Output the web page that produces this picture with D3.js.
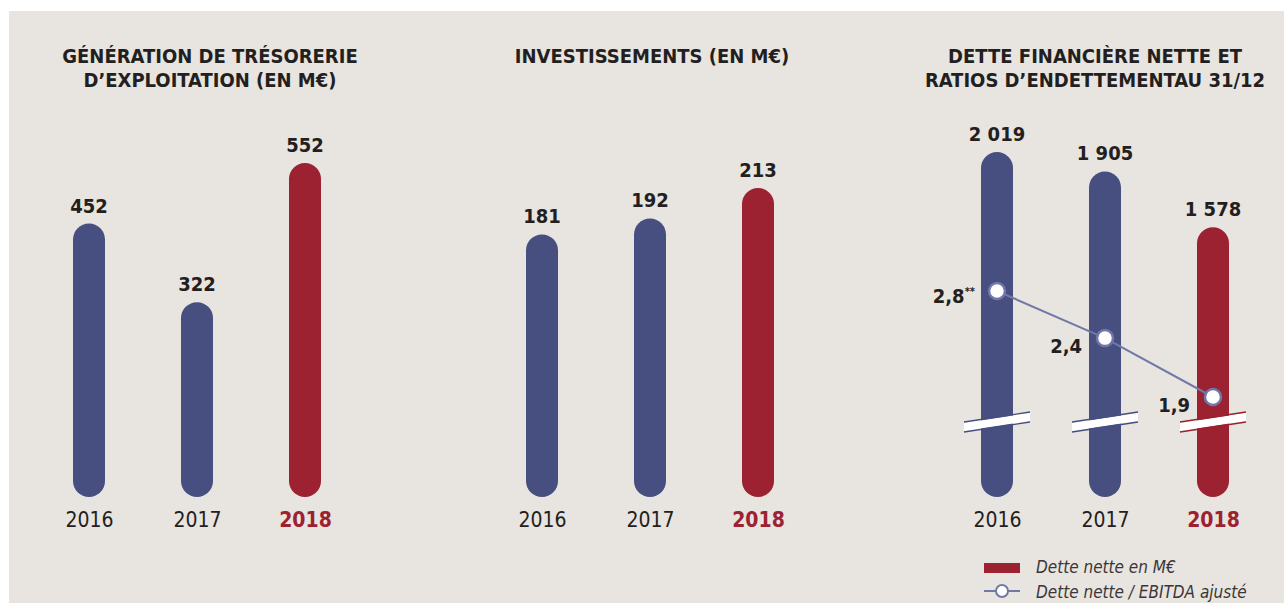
<!doctype html>
<html>
  <head>
    <meta charset="utf-8">
    <title>Chiffres clés</title>
    <script src="https://cdnjs.cloudflare.com/ajax/libs/d3/7.8.5/d3.min.js"></script>
    <style>
      body { margin: 0; background: #fff; }
      .cond { font-family: "Liberation Sans Narrow", "DejaVu Sans Condensed", sans-serif; }
    </style>
  </head>
  <body>
    <div id="chart"></div>
    <script>
      // data
      const years = ['2016', '2017', '2018'];
      const tresorerie = [452, 322, 552];
      const investissements = [181, 192, 213];
      const detteNette = [2019, 1905, 1578];
      const detteLabels = ['2 019', '1 905', '1 578'];
      const ratio = [2.8, 2.4, 1.9];
      const ratioLabels = ['2,8', '2,4', '1,9'];

      const blue = '#474f80', red = '#9c2131', ink = '#231f20', bg = '#e8e4df';
      const lineCol = '#7178a8';

      const svg = d3.select('#chart').append('svg')
        .attr('width', 1284).attr('height', 603);

      svg.append('rect').attr('x', 9).attr('y', 11)
        .attr('width', 1275).attr('height', 592).attr('fill', bg);

      const baseY = 497, barW = 32;
      const colorOf = (d, i) => i === 2 ? red : blue;

      function title(lines, cx) {
        svg.append('text').attr('class', 'cond')
          .attr('x', cx).attr('y', 63)
          .attr('text-anchor', 'middle')
          .attr('font-size', 20).attr('font-weight', 'bold')
          .attr('fill', ink)
          .selectAll('tspan').data(lines).join('tspan')
          .attr('x', cx).attr('dy', (d, i) => i ? 24 : 0)
          .text(d => d);
      }

      function panel(x, y, values, labels) {
        const g = svg.append('g');
        g.selectAll('rect.bar').data(values).join('rect')
          .attr('class', 'bar')
          .attr('x', (d, i) => x(years[i]) - barW / 2)
          .attr('y', d => y(d))
          .attr('width', barW)
          .attr('height', d => baseY - y(d))
          .attr('rx', barW / 2)
          .attr('fill', colorOf);

        g.selectAll('text.val').data(values).join('text')
          .attr('class', 'val cond')
          .attr('x', (d, i) => x(years[i]))
          .attr('y', d => y(d) - 11)
          .attr('text-anchor', 'middle')
          .attr('font-size', 20).attr('font-weight', 'bold')
          .attr('fill', ink)
          .text((d, i) => labels[i]);

        // x axis labels, no line
        const axis = d3.axisBottom(x).tickSize(0).tickPadding(0);
        const ax = g.append('g').attr('transform', `translate(0,${baseY + 30})`).call(axis);
        ax.select('.domain').remove();
        ax.selectAll('text')
          .attr('class', 'cond')
          .attr('dy', 0)
          .attr('font-size', 21)
          .attr('font-family', '"Liberation Sans Narrow", "DejaVu Sans Condensed", sans-serif')
          .attr('fill', (d, i) => i === 2 ? red : ink)
          .attr('font-weight', (d, i) => i === 2 ? 'bold' : 'normal');
        return g;
      }

      // panel 1
      const x1 = d3.scalePoint().domain(years).range([89, 305]);
      const y1 = d3.scaleLinear().domain([0, 552]).range([baseY, 163]);
      title(['GÉNÉRATION DE TRÉSORERIE', 'D\u2019EXPLOITATION (EN M€)'], 210);
      panel(x1, y1, tresorerie, tresorerie.map(String));

      // panel 2
      const x2 = d3.scalePoint().domain(years).range([542, 758]);
      const y2 = d3.scaleLinear().domain([0, 213]).range([baseY, 188]);
      title(['INVESTISSEMENTS (EN M€)'], 652);
      panel(x2, y2, investissements, investissements.map(String));

      // panel 3
      const x3 = d3.scalePoint().domain(years).range([997, 1213]);
      const y3 = d3.scaleLinear().domain([0, 2019]).range([baseY, 152]);
      title(['DETTE FINANCIÈRE NETTE ET', 'RATIOS D\u2019ENDETTEMENTAU 31/12'], 1095);
      const p3 = panel(x3, y3, detteNette, detteLabels);

      // axis break marks
      const breakY = 422;
      const brk = p3.selectAll('g.brk').data(years).join('g')
        .attr('class', 'brk')
        .attr('transform', d => `translate(${x3(d)},${breakY})`);
      const bw = 33, slope = -5;
      brk.append('path')
        .attr('d', `M${-bw},${-slope + -4}L${bw},${slope - 4}L${bw},${slope + 4}L${-bw},${-slope + 4}Z`)
        .attr('fill', '#fff');
      brk.append('path')
        .attr('d', `M${-bw},${-slope - 5}L${bw},${slope - 5}M${-bw},${-slope + 5}L${bw},${slope + 5}`)
        .attr('stroke', (d, i) => colorOf(d, i)).attr('stroke-width', 1.3).attr('fill', 'none');

      // ratio line
      const yr = d3.scaleLinear().domain([1.9, 2.8]).range([397, 291]);
      const line = d3.line().x((d, i) => x3(years[i])).y(d => yr(d));
      p3.append('path').datum(ratio).attr('d', line)
        .attr('fill', 'none').attr('stroke', lineCol).attr('stroke-width', 2);
      p3.selectAll('circle.pt').data(ratio).join('circle')
        .attr('class', 'pt')
        .attr('cx', (d, i) => x3(years[i])).attr('cy', d => yr(d))
        .attr('r', 8).attr('fill', '#fff')
        .attr('stroke', lineCol).attr('stroke-width', 2.5);
      const rl = p3.selectAll('text.rl').data(ratio).join('text')
        .attr('class', 'rl cond')
        .attr('x', (d, i) => x3(years[i]) - (i === 0 ? 22 : 23))
        .attr('y', (d, i) => yr(d) + (i === 0 ? 12 : 15))
        .attr('text-anchor', 'end')
        .attr('font-size', 20).attr('font-weight', 'bold').attr('fill', ink);
      rl.append('tspan').text((d, i) => ratioLabels[i]);
      rl.filter((d, i) => i === 0).append('tspan')
        .attr('dy', -8).attr('font-size', 11).text('**');

      // legend
      const lg = svg.append('g').attr('transform', 'translate(984,0)');
      lg.append('rect').attr('x', 0).attr('y', 563).attr('width', 36).attr('height', 10).attr('fill', red);
      lg.append('line').attr('x1', 0).attr('x2', 36).attr('y1', 591).attr('y2', 591)
        .attr('stroke', lineCol).attr('stroke-width', 2);
      lg.append('circle').attr('cx', 18).attr('cy', 591).attr('r', 6)
        .attr('fill', '#fff').attr('stroke', lineCol).attr('stroke-width', 2);
      lg.selectAll('text').data(['Dette nette en M€', 'Dette nette / EBITDA ajusté']).join('text')
        .attr('class', 'cond')
        .attr('x', 52).attr('y', (d, i) => 573 + i * 25)
        .attr('font-size', 17).attr('font-style', 'italic').attr('fill', '#3a3638')
        .text(d => d);
    </script>
  </body>
</html>
